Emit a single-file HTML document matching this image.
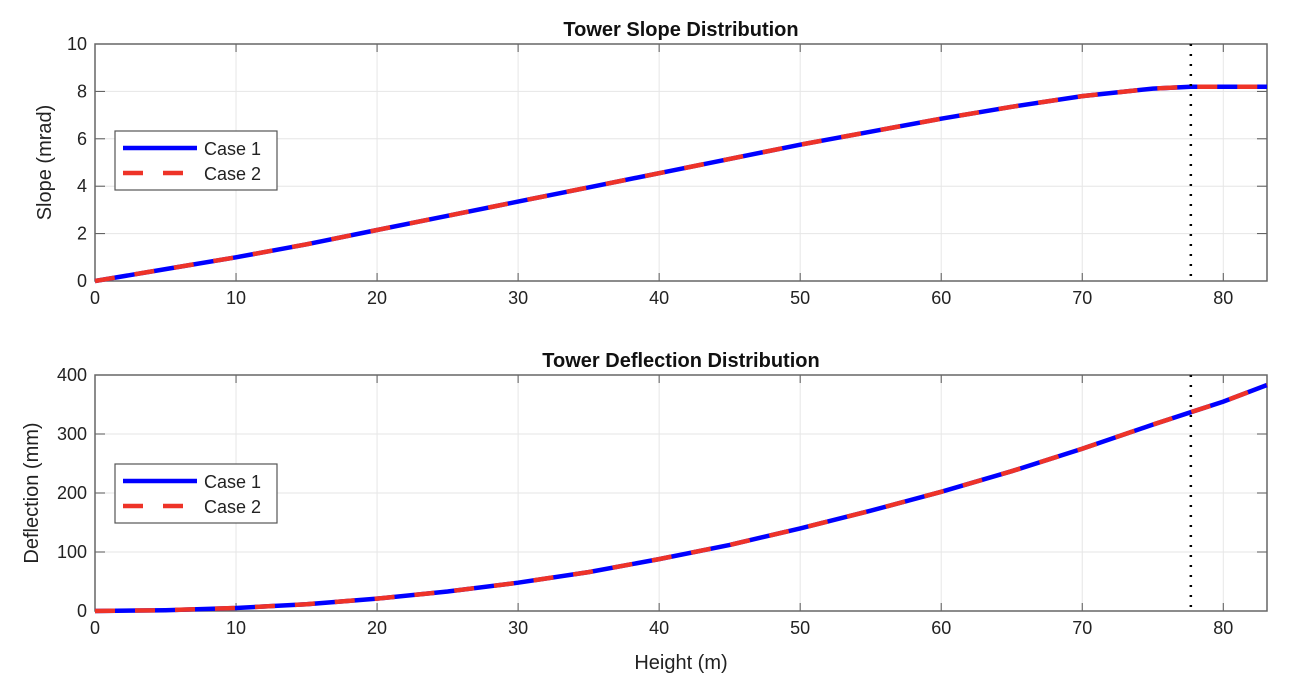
<!DOCTYPE html>
<html><head><meta charset="utf-8"><style>
body{margin:0;background:#fff;font-family:"Liberation Sans",sans-serif}
</style></head><body>
<svg id="c" width="1292" height="686" xmlns="http://www.w3.org/2000/svg"></svg>
<script>
const xs=[0,5,10,15,20,25,30,35,40,45,50,55,60,65,70,75,77.7,80,83.1];
const slope=[0,0.5,1.0,1.55,2.15,2.75,3.35,3.95,4.55,5.15,5.75,6.3,6.85,7.35,7.8,8.12,8.2,8.2,8.2];
const defl=[0,1.3,5,11.5,21,33,48,66,88,112,140,170,202,237,275,316,337,355,383];
const xTicks=[0,10,20,30,40,50,60,70,80];
const slopeTicks=[0,2,4,6,8,10];
const deflTicks=[0,100,200,300,400];
const xMax=83.1, markerX=77.7;
const NS='http://www.w3.org/2000/svg', svg=document.getElementById('c');
function el(t,a,p){const e=document.createElementNS(NS,t);for(const k in a)e.setAttribute(k,a[k]);(p||svg).appendChild(e);return e;}
function panel(name,top,bot,ymax,yT,ys,title,ylab,xlab,legY){
  const L=95,R=1267;
  const g=el('g',{});
  
  
  const sx=v=>L+v/xMax*(R-L), sy=v=>bot-v/ymax*(bot-top);
  xTicks.forEach(t=>{const l=el('line',{x1:sx(t),x2:sx(t),y1:top,y2:bot,stroke:'#e6e6e6'},g);
    el('line',{x1:sx(t),x2:sx(t),y1:bot,y2:bot-8,stroke:'#555'},g);el('line',{x1:sx(t),x2:sx(t),y1:top,y2:top+8,stroke:'#555'},g);
    const tx=el('text',{x:sx(t),y:bot+23,'text-anchor':'middle','font-size':18,fill:'#222'},g);tx.textContent=t;});
  yT.forEach(t=>{const l=el('line',{x1:L,x2:R,y1:sy(t),y2:sy(t),stroke:'#e6e6e6'},g);
    el('line',{x1:L,x2:L+10,y1:sy(t),y2:sy(t),stroke:'#555'},g);el('line',{x1:R,x2:R-10,y1:sy(t),y2:sy(t),stroke:'#555'},g);
    const tx=el('text',{x:L-8,y:sy(t)+6,'text-anchor':'end','font-size':18,fill:'#222'},g);tx.textContent=t;});
  const fr=el('rect',{x:L,y:top,width:R-L,height:bot-top,fill:'none',stroke:'#666','stroke-width':1.5},g);
  const d=xs.map((x,i)=>(i?'L':'M')+sx(x).toFixed(1)+','+sy(ys[i]).toFixed(1)).join('');
  const c1=el('path',{d,fill:'none',stroke:'#0000ff','stroke-width':4.5},g);
  const c2=el('path',{d,fill:'none',stroke:'#ee3328','stroke-width':4.5,'stroke-dasharray':'20 20'},g);
  const m=el('line',{x1:sx(markerX),x2:sx(markerX),y1:top,y2:bot,stroke:'#000','stroke-width':2.5,'stroke-dasharray':'2 8'},g);
  const ti=el('text',{x:(L+R)/2,y:top-8,'text-anchor':'middle','font-size':20,'font-weight':'bold',fill:'#111'},g);ti.textContent=title;
  const yl=el('text',{transform:`translate(${name==='slope-panel'?51:38},${(top+bot)/2}) rotate(-90)`,'text-anchor':'middle','font-size':20,fill:'#222'},g);yl.textContent=ylab;
  if(xlab){const xl=el('text',{x:(L+R)/2,y:bot+58,'text-anchor':'middle','font-size':20,fill:'#222'},g);xl.textContent=xlab;}
  const lg=el('g',{},g);
  el('rect',{x:115,y:legY,width:162,height:59,fill:'#fff',stroke:'#555','stroke-width':1.2},lg);
  el('line',{x1:123,x2:197,y1:legY+17,y2:legY+17,stroke:'#0000ff','stroke-width':4.5},lg);
  el('line',{x1:123,x2:197,y1:legY+42,y2:legY+42,stroke:'#ee3328','stroke-width':4.5,'stroke-dasharray':'20 20'},lg);
  const t1=el('text',{x:204,y:legY+24,'font-size':18,fill:'#222'},lg);t1.textContent='Case 1';
  const t2=el('text',{x:204,y:legY+49,'font-size':18,fill:'#222'},lg);t2.textContent='Case 2';
}
panel('slope-panel',44,281,10,slopeTicks,slope,'Tower Slope Distribution','Slope (mrad)',null,131);
panel('deflection-panel',375,611,400,deflTicks,defl,'Tower Deflection Distribution','Deflection (mm)','Height (m)',464);
</script>
</body></html>
